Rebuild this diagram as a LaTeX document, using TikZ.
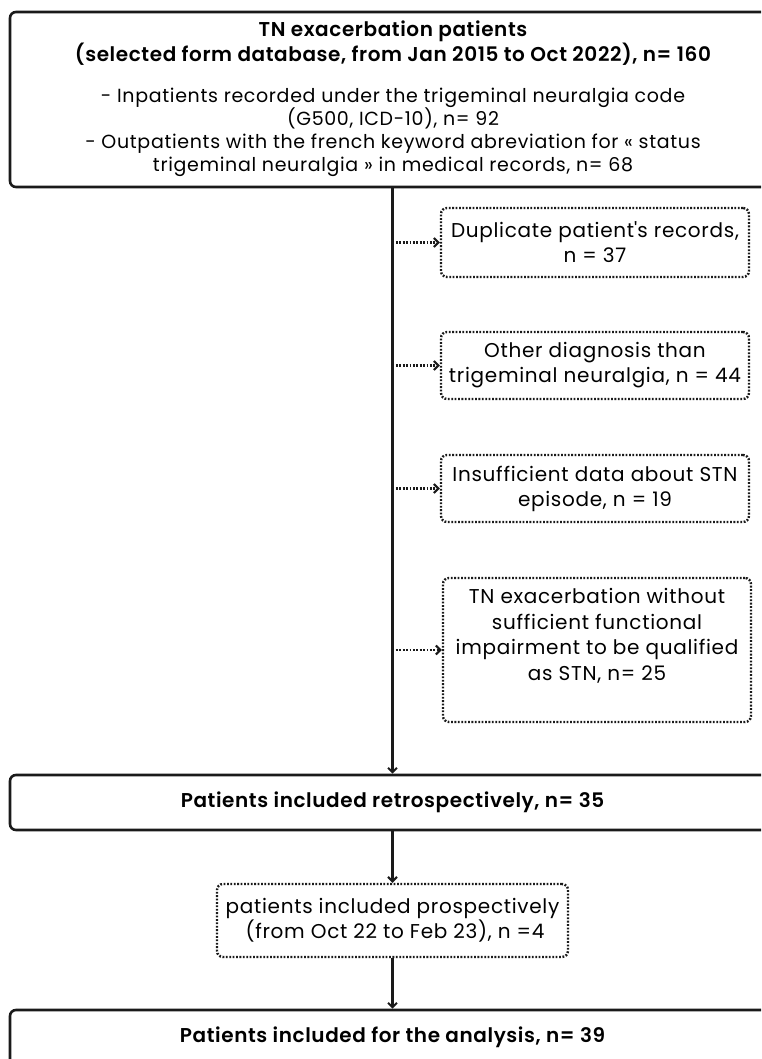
\documentclass[tikz,border=0pt]{standalone}
\usepackage{fontspec}
\setmainfont{Poppins}[LetterSpace=3.5]
\newfontfamily\bfam{Poppins SemiBold}[LetterSpace=3]
\usetikzlibrary{arrows.meta}
\definecolor{linec}{HTML}{1A1A1A}
\tikzset{
  mainbox/.style={draw=linec, line width=2.6pt, rounded corners=6pt, minimum width=765pt, inner sep=0pt, align=center, font=\bfam\fontsize{20}{24}\selectfont},
  boldtxt/.style={inner sep=0pt, align=center, font=\bfam\fontsize{20}{24.5}\selectfont},
  excl/.style={draw=linec, line width=2.4pt, dash pattern=on 1.8pt off 1.6pt, rounded corners=6pt, inner sep=0pt, align=center, font=\fontsize{20}{25}\selectfont},
  plain/.style={inner sep=0pt, align=center, font=\fontsize{20}{25.5}\selectfont},
  toptxt/.style={inner sep=0pt, align=center, font=\fontsize{19}{23}\selectfont},
  flow/.style={draw=linec, line width=2.3pt, -{Straight Barb[length=4.5pt,width=9pt,line width=2pt]}},
  side/.style={draw=linec, line width=2.3pt, dash pattern=on 1.8pt off 1.6pt, -{Straight Barb[length=4.5pt,width=9pt,line width=2pt]}},
}
\begin{document}
\begin{tikzpicture}[x=1pt,y=-1pt]
\useasboundingbox (0,0) rectangle (761,1059);
\fill[white] (0,0) rectangle (761,1059);
\begin{scope}
\clip (0,0) rectangle (761,1059);
\node[mainbox, minimum height=175pt] (top) at (392.5,99.5) {};
\node[boldtxt] (title) at (393,43)
  {TN exacerbation patients\\ (selected form database, from Jan 2015 to Oct 2022), n= 160};
\node[toptxt] (body) at (393,132)
  {- Inpatients recorded under the trigeminal neuralgia code\\
   (G500, ICD-10), n= 92\\
   - Outpatients with the french keyword abreviation for « status\\
   trigeminal neuralgia » in medical records, n= 68};
\node[excl, minimum width=308pt, minimum height=69pt] (b1) at (595,242.5)
  {Duplicate patient\textquotesingle s records,\\ n = 37};
\node[excl, minimum width=308pt, minimum height=67pt] (b2) at (595,365.5)
  {Other diagnosis than\\ trigeminal neuralgia, n = 44};
\node[excl, minimum width=308pt, minimum height=67pt] (b3) at (595,488.5)
  {Insufficient data about STN\\ episode, n = 19};
\node[excl, minimum width=308pt, minimum height=144pt] (b4) at (597,650) {};
\node[plain] (t4) at (597,636)
  {TN exacerbation without\\ sufficient functional\\ impairment to be qualified\\ as STN, n= 25};
\node[mainbox, minimum height=55pt] (retro) at (392.5,802.5)
  {Patients included retrospectively, n= 35};
\node[excl, minimum width=351pt, minimum height=73pt] (pros) at (392.5,920.5)
  {patients included prospectively\\ \hspace*{5pt}(from Oct 22 to Feb 23), n =4};
\node[mainbox, minimum height=55pt] (final) at (392.5,1037.5)
  {Patients included for the analysis, n= 39};
\draw[flow] (top.south) -- (retro.north);
\draw[side] (top.south |- b1.west) -- (b1.west);
\draw[side] (top.south |- b2.west) -- (b2.west);
\draw[side] (top.south |- b3.west) -- (b3.west);
\draw[side] (top.south |- b4.west) -- (b4.west);
\draw[flow] (retro.south) -- (pros.north);
\draw[flow] (pros.south) -- (final.north);
\end{scope}
\end{tikzpicture}
\end{document}
